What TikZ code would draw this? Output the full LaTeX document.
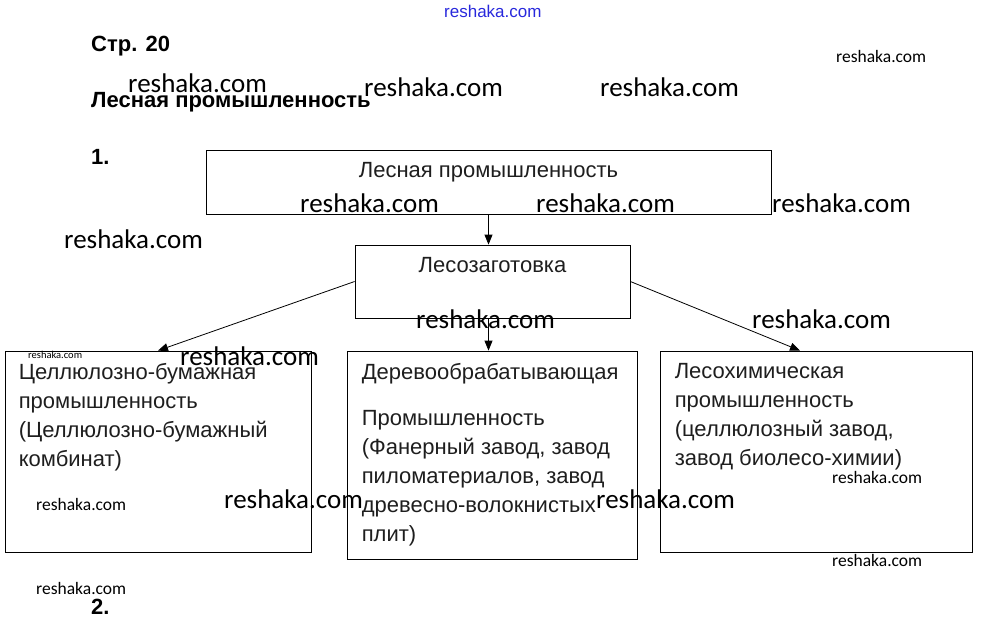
\documentclass[tikz,border=0pt]{standalone}
\usepackage{fontspec}
\setmainfont{Liberation Sans}
\newfontfamily\wmfont{Carlito}
\usetikzlibrary{positioning,arrows.meta}
\definecolor{wmblue}{RGB}{40, 40, 220}
\definecolor{inkgray}{RGB}{30, 30, 30}

\begin{document}
\begin{tikzpicture}[x=1pt,y=-1pt,
    box/.style={draw, line width=0.8pt, inner sep=0pt},
    boxtext/.style={inner sep=0pt, align=left, text=inkgray, font=\fontsize{22}{29}\selectfont},
    head/.style={inner sep=0pt, anchor=base west, font=\bfseries\fontsize{22}{25}\selectfont},
    link/.style={line width=0.8pt, -{Triangle[length=10pt,width=8pt]}},
    wmbig/.style={inner sep=0pt, anchor=base west, font=\wmfont\fontsize{27}{27}\selectfont},
    wmsmall/.style={inner sep=0pt, anchor=base west, font=\wmfont\fontsize{17.5}{18}\selectfont},
    wmtiny/.style={inner sep=0pt, anchor=base west, font=\wmfont\fontsize{10.5}{11}\selectfont}]
            \useasboundingbox (0,0) rectangle (983,635);
            % headings
            \node[head] (page) at (91,51) {Стр. 20};
            \node[head] (title) at (91,107) {Лесная промышленность};
            \node[head] (one) at (91,164) {1.};
            \node[head] (two) at (91,614) {2.};
            % boxes
            \node[box, minimum width=565pt, minimum height=64pt] (les) at (488.5,182) {};
            \node[box, minimum width=275pt, minimum height=73pt] (zag) at (492.5,281.5) {};
            \node[box, minimum width=306pt, minimum height=201pt] (cbk) at (158,451.5) {};
            \node[box, minimum width=290pt, minimum height=208pt] (der) at (492,455) {};
            \node[box, minimum width=312pt, minimum height=201pt] (lhp) at (816,451.5) {};
            % texts
            \node[boxtext, below=13pt of les.north] (lestxt) {Лесная промышленность};
            \node[boxtext, below=13pt of zag.north] (zagtxt) {Лесозаготовка};
            \node[boxtext, below right=13pt and 14pt of cbk.north west] (cbktxt)
                {Целлюлозно-бумажная\\промышленность\\(Целлюлозно-бумажный\\комбинат)};
            \node[boxtext, below right=13pt and 15pt of der.north west] (dertxt)
                {Деревообрабатывающая\\[17pt]Промышленность\\(Фанерный завод, завод\\пиломатериалов, завод\\древесно-волокнистых\\плит)};
            \node[boxtext, below right=13pt and 15pt of lhp.north west] (lhptxt)
                {Лесохимическая\\промышленность\\(целлюлозный завод,\\завод биолесо-химии)};
            % arrows
            \draw[link] (les.south) -- (les.south |- zag.north);
            \draw[link] (zag.west) -- (cbk.north);
            \draw[link] (les.south |- zag.south) -- (les.south |- der.north);
            \draw[link] (zag.east) -- ([xshift=-16pt]lhp.north);
            % watermarks
            \node[inner sep=0pt, anchor=base west, text=wmblue, font=\fontsize{17}{17}\selectfont] (wm0) at (444,17) {reshaka.com};
            \node[wmbig] (wm1) at (128,92) {reshaka.com};
            \node[wmbig] (wm2) at (364,96) {reshaka.com};
            \node[wmbig] (wm3) at (600,96) {reshaka.com};
            \node[wmbig] (wm4) at (300,212) {reshaka.com};
            \node[wmbig] (wm5) at (536,212) {reshaka.com};
            \node[wmbig] (wm6) at (772,212) {reshaka.com};
            \node[wmbig] (wm7) at (64,248) {reshaka.com};
            \node[wmbig] (wm8) at (416,328) {reshaka.com};
            \node[wmbig] (wm9) at (752,328) {reshaka.com};
            \node[wmbig] (wm10) at (180,365) {reshaka.com};
            \node[wmbig] (wm11) at (224,508) {reshaka.com};
            \node[wmbig] (wm12) at (596,508) {reshaka.com};
            \node[wmsmall] (wm13) at (836,62) {reshaka.com};
            \node[wmsmall] (wm14) at (36,510) {reshaka.com};
            \node[wmsmall] (wm15) at (832,483) {reshaka.com};
            \node[wmsmall] (wm16) at (832,566) {reshaka.com};
            \node[wmsmall] (wm17) at (36,594) {reshaka.com};
            \node[wmtiny] (wm18) at (28,358) {reshaka.com};
        \end{tikzpicture}
\end{document}
